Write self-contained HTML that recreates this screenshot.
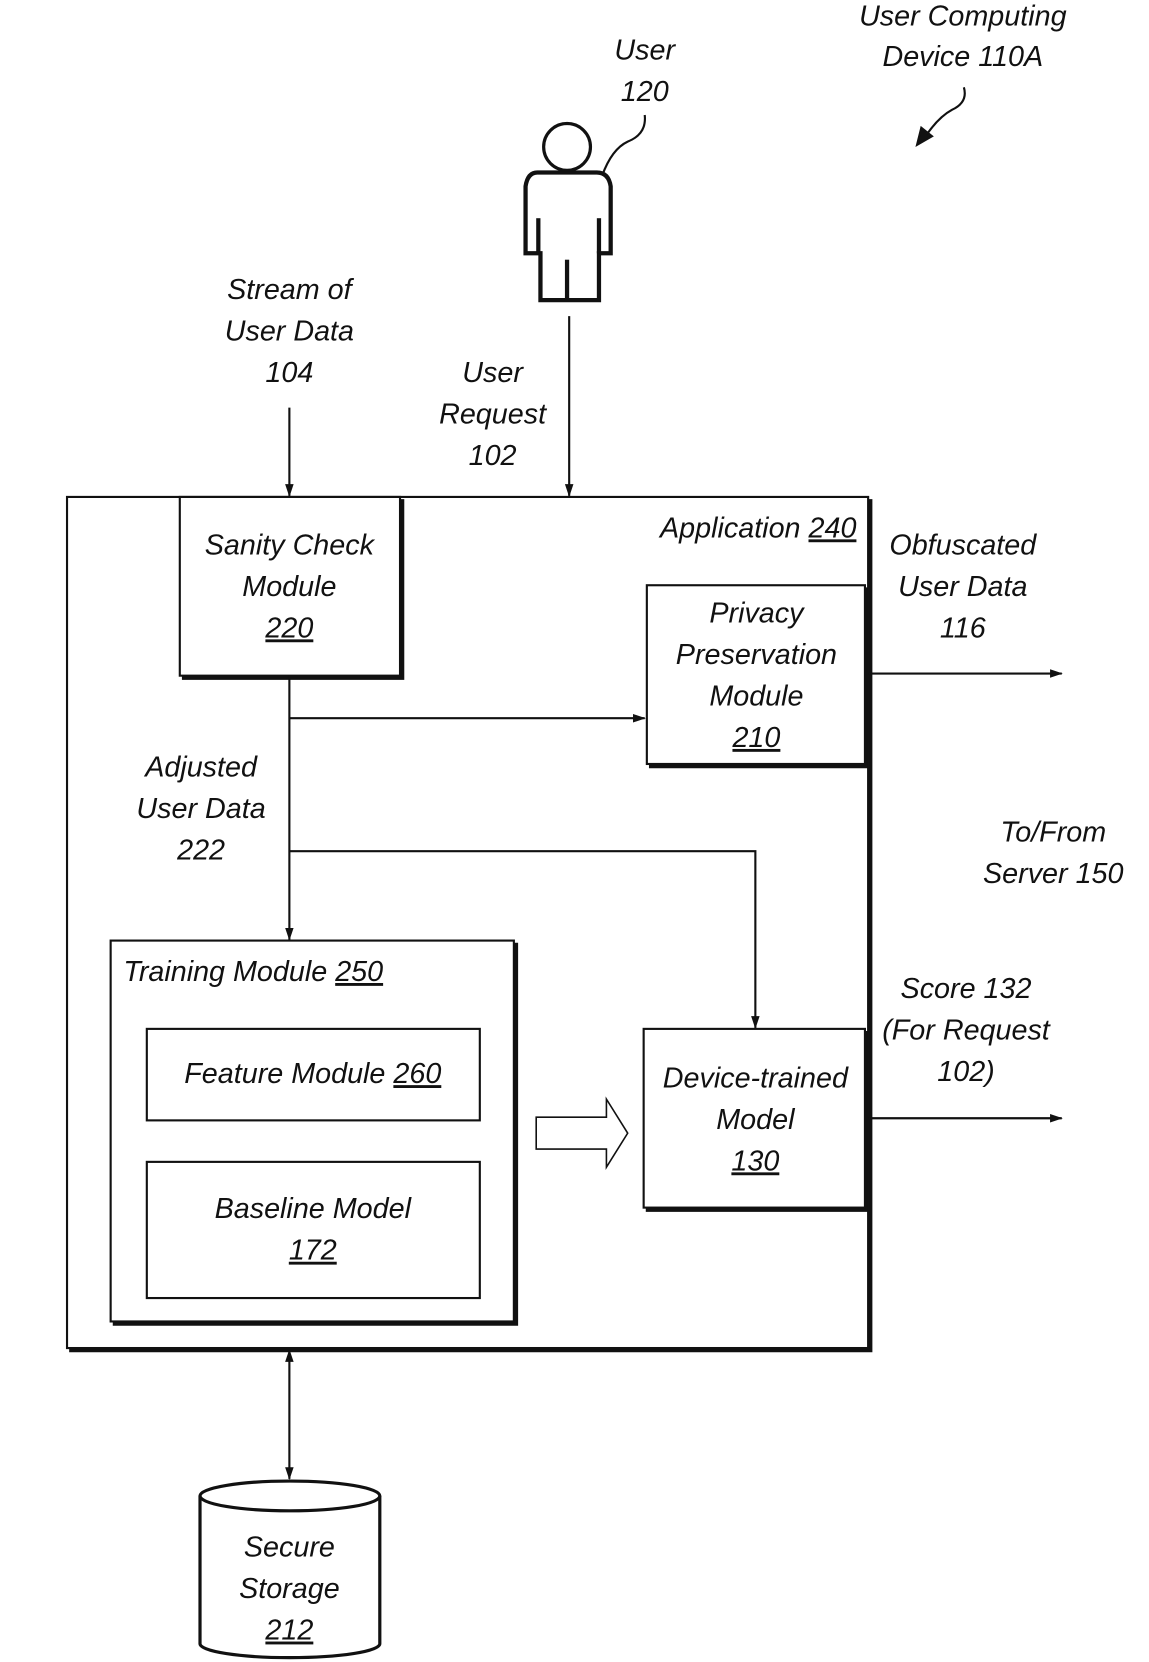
<!DOCTYPE html>
<html><head><meta charset="utf-8"><style>
html,body{margin:0;padding:0;background:#fff}
svg{display:block}
text{font-family:"Liberation Sans",sans-serif;font-style:italic;font-size:27px;fill:#111;text-anchor:middle}
.u{text-decoration:underline}
</style></head><body>
<svg width="1149" height="1662" viewBox="0 0 1080 1562" xmlns="http://www.w3.org/2000/svg">
<defs>
<marker id="a" markerWidth="12" markerHeight="10" refX="11" refY="5" orient="auto" markerUnits="userSpaceOnUse">
<path d="M0,1 L12,5 L0,9 Z" fill="#111"/></marker>
<marker id="b" markerWidth="12" markerHeight="10" refX="1" refY="5" orient="auto" markerUnits="userSpaceOnUse">
<path d="M12,1 L0,5 L12,9 Z" fill="#111"/></marker>
</defs>
<g fill="none" stroke="#111" stroke-width="2">
<!-- shadows -->
<g stroke-width="4">
<polyline points="818,469 818,1269 65,1269"/>
<polyline points="378,469 378,637 171,637"/>
<polyline points="815,552 815,720 610,720"/>
<polyline points="485,886 485,1244 106,1244"/>
<polyline points="453,969 453,1055 140,1055"/>
<polyline points="453,1094 453,1222 140,1222"/>
<polyline points="815,969 815,1137 607,1137"/>
</g>
<rect x="63" y="467" width="753" height="800" fill="none"/>
<rect x="169" y="467" width="207" height="168" fill="#fff"/>
<rect x="608" y="550" width="205" height="168" fill="#fff"/>
<rect x="104" y="884" width="379" height="358" fill="#fff"/>
<rect x="138" y="967" width="313" height="86" fill="#fff"/>
<rect x="138" y="1092" width="313" height="128" fill="#fff"/>
<rect x="605" y="967" width="208" height="168" fill="#fff"/>
<!-- connectors -->
<line x1="272" y1="383" x2="272" y2="466" marker-end="url(#a)"/>
<line x1="535" y1="297" x2="535" y2="466" marker-end="url(#a)"/>
<line x1="272" y1="635" x2="272" y2="883" marker-end="url(#a)"/>
<line x1="272" y1="675" x2="606" y2="675" marker-end="url(#a)"/>
<polyline points="272,800 710,800 710,966" marker-end="url(#a)"/>
<line x1="816" y1="633" x2="998" y2="633" marker-end="url(#a)"/>
<line x1="816" y1="1051" x2="998" y2="1051" marker-end="url(#a)"/>
<line x1="272" y1="1269" x2="272" y2="1390" marker-start="url(#b)" marker-end="url(#a)"/>
<!-- hollow arrow -->
<path d="M504,1050 L570,1050 L570,1033 L590,1065 L570,1097 L570,1080 L504,1080 Z" stroke-width="1.5"/>
<!-- cylinder -->
<path d="M188,1406 L188,1545 A84.5,13 0 0 0 357,1545 L357,1406" fill="#fff" stroke-width="3"/>
<ellipse cx="272.5" cy="1406" rx="84.5" ry="14" fill="#fff" stroke-width="3"/>
<!-- person -->
<path d="M505,162 L561,162 Q572,162 574,175 L574,238 L563,238 L563,282 L508,282 L508,238 L494,238 L494,175 Q496,162 505,162 Z" fill="#fff" stroke-width="4"/>
<line x1="506" y1="205" x2="506" y2="238" stroke-width="4"/>
<line x1="563" y1="205" x2="563" y2="238" stroke-width="4"/>
<line x1="533" y1="244" x2="533" y2="282" stroke-width="4"/>
<circle cx="533" cy="138" r="22" fill="#fff" stroke-width="3"/>
<path d="M566,165 Q575,140 590,133 Q608,126 606,108" stroke-width="2"/>
<path d="M906,82 Q910,96 895,103 Q882,110 870,128" stroke-width="2"/>
<path d="M862,136 L866,120 L876,128 Z" fill="#111"/>
</g>
<text x="905" y="24">User Computing</text>
<text x="905" y="62">Device 110A</text>
<text x="606" y="56">User</text>
<text x="606" y="95">120</text>
<text x="272" y="281">Stream of</text>
<text x="272" y="320">User Data</text>
<text x="272" y="359">104</text>
<text x="463" y="359">User</text>
<text x="463" y="398">Request</text>
<text x="463" y="437">102</text>
<text x="272" y="521">Sanity Check</text>
<text x="272" y="560">Module</text>
<text x="272" y="599" class="u">220</text>
<text x="805" y="505" style="text-anchor:end">Application <tspan class="u">240</tspan></text>
<text x="905" y="521">Obfuscated</text>
<text x="905" y="560">User Data</text>
<text x="905" y="599">116</text>
<text x="711" y="585">Privacy</text>
<text x="711" y="624">Preservation</text>
<text x="711" y="663">Module</text>
<text x="711" y="702" class="u">210</text>
<text x="189" y="730">Adjusted</text>
<text x="189" y="769">User Data</text>
<text x="189" y="808">222</text>
<text x="990" y="791">To/From</text>
<text x="990" y="830">Server 150</text>
<text x="116" y="922" style="text-anchor:start">Training Module <tspan class="u">250</tspan></text>
<text x="908" y="938">Score 132</text>
<text x="908" y="977">(For Request</text>
<text x="908" y="1016">102)</text>
<text x="294" y="1018">Feature Module <tspan class="u">260</tspan></text>
<text x="710" y="1022">Device-trained</text>
<text x="710" y="1061">Model</text>
<text x="710" y="1100" class="u">130</text>
<text x="294" y="1145">Baseline Model</text>
<text x="294" y="1184" class="u">172</text>
<text x="272" y="1463">Secure</text>
<text x="272" y="1502">Storage</text>
<text x="272" y="1541" class="u">212</text>
</svg>
</body></html>
